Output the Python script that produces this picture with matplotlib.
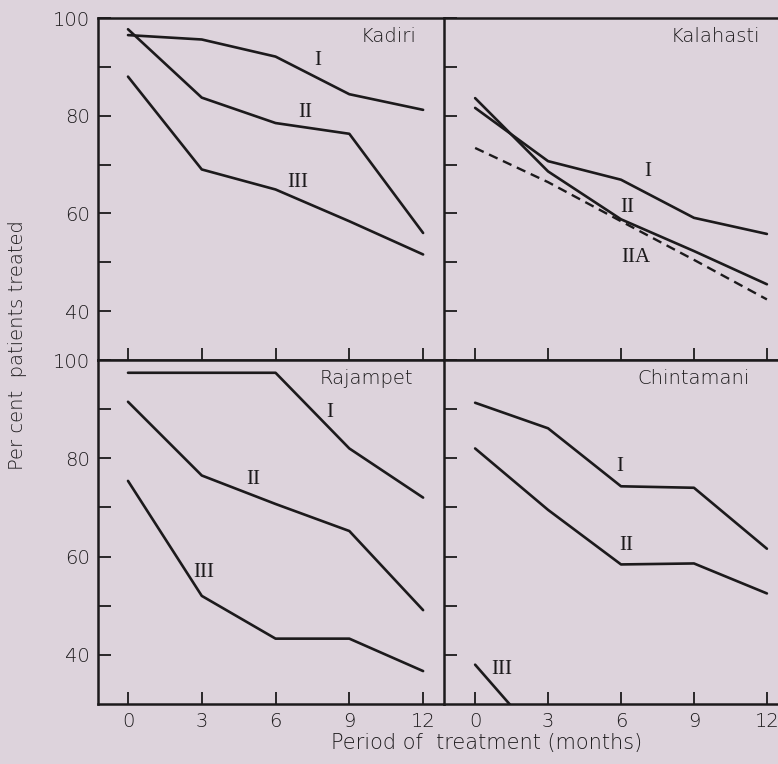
#!/usr/bin/env python3
"""Per cent patients treated vs period of treatment, four districts."""

import matplotlib
matplotlib.use("Agg")
import matplotlib.pyplot as plt

BG = "#ddd3dc"
INK = "#1c1a1c"

months = [0, 3, 6, 9, 12]

# Kadiri
kadiri_I = [96.5, 95.6, 92.1, 84.4, 81.2]
kadiri_II = [97.7, 83.7, 78.5, 76.3, 56.0]
kadiri_III = [88.0, 69.0, 64.9, 58.4, 51.6]

# Kalahasti
kalahasti_I = [81.6, 70.7, 66.9, 59.1, 55.8]
kalahasti_II = [83.6, 68.6, 58.8, 52.3, 45.5]
kalahasti_IIA = [73.4, 66.4, 58.4, 50.5, 42.4]

# Rajampet
rajampet_I = [97.4, 97.4, 97.4, 82.0, 72.0]
rajampet_II = [91.5, 76.5, 70.7, 65.2, 49.1]
rajampet_III = [75.4, 52.0, 43.3, 43.3, 36.7]

# Chintamani
chintamani_I = [91.3, 86.1, 74.3, 74.0, 61.6]
chintamani_II = [82.0, 69.5, 58.4, 58.6, 52.5]
chintamani_III_x = [0, 1.5]
chintamani_III = [38.0, 29.5]

W, H = 778, 764
fig = plt.figure(figsize=(W / 100, H / 100), dpi=100)
fig.patch.set_facecolor(BG)

sans = ["DejaVu Sans"]
serif = ["Liberation Serif", "DejaVu Serif"]
LIGHT = "light"


def make_axes(x0, y0, x1, y1):
    # pixel box (top-left origin) -> figure fraction
    ax = fig.add_axes([x0 / W, 1 - y1 / H, (x1 - x0) / W, (y1 - y0) / H])
    ax.set_facecolor(BG)
    ax.set_ylim(30, 100)
    ax.set_yticks([40, 50, 60, 70, 80, 90, 100])
    ax.set_xticks(months)
    ax.tick_params(direction="in", length=9, width=1.3, colors=INK,
                   labelsize=14, pad=6)
    for s in ax.spines.values():
        s.set_linewidth(1.8)
        s.set_color(INK)
    return ax


ax_k = make_axes(98, 18, 444, 360)
ax_ka = make_axes(444, 18, 790, 360)
ax_r = make_axes(98, 360, 444, 704)
ax_c = make_axes(444, 360, 790, 704)

for ax in (ax_k, ax_r):
    ax.set_xlim(-1.22, 12.85)
    ax.set_yticklabels(["40", "", "60", "", "80", "", "100"],
                       family=sans, fontweight=LIGHT)
    ax.spines["right"].set_visible(False)
for ax in (ax_ka, ax_c):
    ax.set_xlim(-1.28, 12.95)
    ax.set_yticklabels([])
for ax in (ax_k, ax_ka):
    ax.set_xticklabels([])
for ax in (ax_r, ax_c):
    ax.set_xticklabels(["0", "3", "6", "9", "12"], family=sans,
                       fontweight=LIGHT)

lw = 1.9
kw = dict(color=INK, lw=lw, solid_joinstyle="round", solid_capstyle="round")


def roman(ax, x, y, s):
    ax.text(x, y, s, family=serif, fontsize=15, color=INK,
            ha="center", va="center")


def place(ax, s, x, y):
    ax.text(x, y, s, family=sans, fontweight=LIGHT, fontsize=14, color=INK,
            ha="center", va="center")


# Kadiri
ax_k.plot(months, kadiri_I, **kw)
ax_k.plot(months, kadiri_II, **kw)
ax_k.plot(months, kadiri_III, **kw)
roman(ax_k, 7.7, 91.4, "I")
roman(ax_k, 7.2, 80.6, "II")
roman(ax_k, 6.9, 66.3, "III")
place(ax_k, "Kadiri", 10.6, 96.3)

# Kalahasti
ax_ka.plot(months, kalahasti_I, **kw)
ax_ka.plot(months, kalahasti_II, **kw)
ax_ka.plot(months, kalahasti_IIA, color=INK, lw=1.7, ls=(0, (4, 2.5)))
roman(ax_ka, 7.1, 68.6, "I")
roman(ax_ka, 6.25, 61.2, "II")
roman(ax_ka, 6.6, 51.0, "IIA")
place(ax_ka, "Kalahasti", 9.9, 96.3)

# Rajampet
ax_r.plot(months, rajampet_I, **kw)
ax_r.plot(months, rajampet_II, **kw)
ax_r.plot(months, rajampet_III, **kw)
roman(ax_r, 8.2, 89.4, "I")
roman(ax_r, 5.1, 75.6, "II")
roman(ax_r, 3.1, 56.8, "III")
place(ax_r, "Rajampet", 9.7, 96.3)

# Chintamani
ax_c.plot(months, chintamani_I, **kw)
ax_c.plot(months, chintamani_II, **kw)
ax_c.plot(chintamani_III_x, chintamani_III, **kw)
roman(ax_c, 5.96, 78.4, "I")
roman(ax_c, 6.2, 62.2, "II")
roman(ax_c, 1.1, 37.1, "III")
place(ax_c, "Chintamani", 9.0, 96.3)

fig.text(18 / W, 1 - 345 / H, "Per cent  patients treated", rotation=90,
         ha="center", va="center", family=sans, fontweight=LIGHT,
         fontsize=14, color=INK)
fig.text(487 / W, 1 - 743 / H, "Period of  treatment (months)",
         ha="center", va="center", family=sans, fontweight=LIGHT,
         fontsize=15, color=INK)

fig.savefig("out.png", dpi=100, facecolor=BG)
